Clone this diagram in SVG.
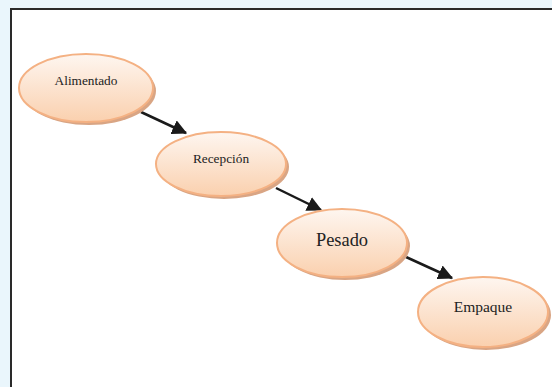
<svg xmlns="http://www.w3.org/2000/svg" width="552" height="387" viewBox="0 0 552 387">
<style>
.node ellipse.main{fill:url(#g);stroke:#f4b183;stroke-width:2}
.node ellipse.sh{fill:#d9a584}
.node text{font-family:'Liberation Serif','Times New Roman','DejaVu Serif',serif;fill:#222;text-anchor:middle}
.conn line{stroke:#1a1a1a;stroke-width:2.5;marker-end:url(#ah)}
</style>
<defs>
<linearGradient id="g" x1="0" y1="0" x2="0" y2="1">
<stop offset="0" stop-color="#fef6f0"/>
<stop offset="1" stop-color="#fad0ae"/>
</linearGradient>
<marker id="ah" markerWidth="6" markerHeight="6" refX="5.5" refY="3" orient="auto" markerUnits="strokeWidth">
<path d="M0,0 L6,3 L0,6 Z" fill="#1a1a1a"/>
</marker>
</defs>
<rect x="0" y="0" width="552" height="387" fill="#eaf6fc"/>
<rect x="11" y="9" width="560" height="400" fill="#ffffff" stroke="#2a2a2a" stroke-width="2"/>
<g class="conn">
<line x1="141" y1="112" x2="186" y2="133"/>
<line x1="276" y1="188" x2="321" y2="210"/>
<line x1="406" y1="257" x2="452" y2="278"/>
</g>
<g id="n1" class="node">
<ellipse class="sh" cx="89" cy="91" rx="67" ry="34"/>
<ellipse class="main" cx="86" cy="88" rx="67" ry="34"/>
<text x="86" y="85" font-size="13.3">Alimentado</text>
</g>
<g id="n2" class="node">
<ellipse class="sh" cx="224" cy="167" rx="65" ry="32"/>
<ellipse class="main" cx="221" cy="164" rx="65" ry="32"/>
<text x="221" y="163" font-size="13.3">Recepción</text>
</g>
<g id="n3" class="node">
<ellipse class="sh" cx="345" cy="246" rx="65" ry="34"/>
<ellipse class="main" cx="342" cy="243" rx="65" ry="34"/>
<text x="342" y="246" font-size="18.4">Pesado</text>
</g>
<g id="n4" class="node">
<ellipse class="sh" cx="486" cy="315" rx="65" ry="35"/>
<ellipse class="main" cx="483" cy="312" rx="65" ry="35"/>
<text x="483" y="312" font-size="15.5">Empaque</text>
</g>
</svg>
